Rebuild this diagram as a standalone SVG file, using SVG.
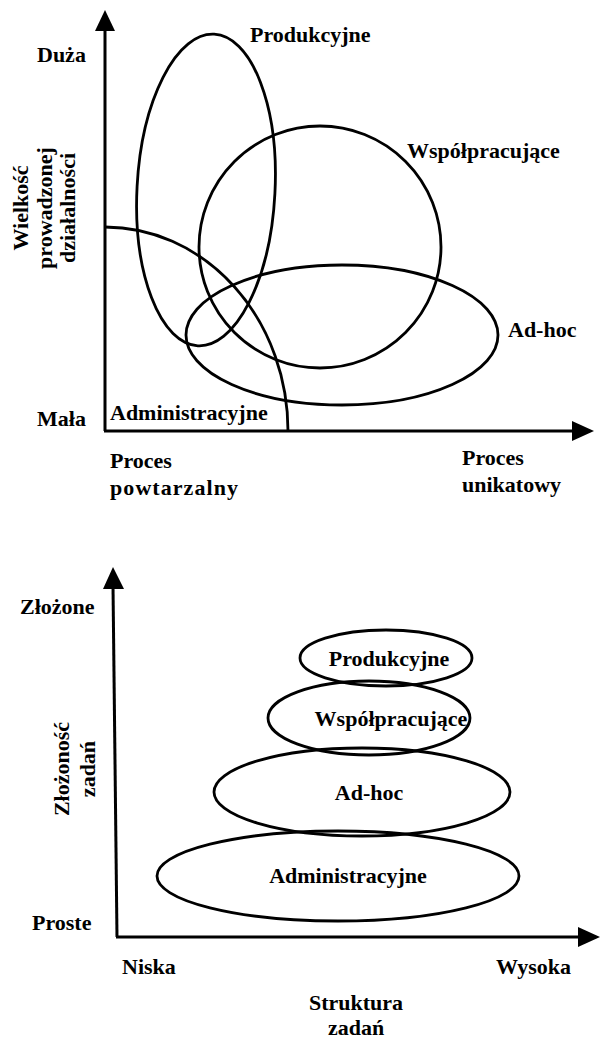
<svg xmlns="http://www.w3.org/2000/svg" width="601" height="1045" viewBox="0 0 601 1045">
<style>
.t{font-family:"Liberation Serif","Times New Roman",serif;font-size:22px;font-weight:bold;fill:#000}
.m{text-anchor:middle}
.ax{stroke:#000;stroke-width:3;fill:none}
.sh{stroke:#000;stroke-width:2.8;fill:none}
</style>
<rect width="601" height="1045" fill="#fff"/>
<g id="connectors">
<line class="ax" x1="105" y1="431" x2="105" y2="28"/>
<polygon points="105,10 95,31 115,31" fill="#000"/>
<line class="ax" x1="104" y1="431" x2="575" y2="431"/>
<polygon points="594,431 572,421 572,441" fill="#000"/>
<line class="ax" x1="117" y1="937" x2="113" y2="586"/>
<polygon points="113,567 103,589 124,589" fill="#000"/>
<line class="ax" x1="116" y1="937" x2="580" y2="937"/>
<polygon points="600,937 578,927 578,947" fill="#000"/>
</g>
<g id="top-produkcyjne">
<ellipse class="sh" cx="206" cy="190" rx="69" ry="156" transform="rotate(3 206 190)"/>
<text class="t" x="250" y="42">Produkcyjne</text>
</g>
<g id="top-wspolpracujace">
<circle class="sh" cx="320" cy="247" r="121"/>
<text class="t" x="407" y="158">Współpracujące</text>
</g>
<g id="top-adhoc">
<ellipse class="sh" cx="342" cy="335" rx="156" ry="70"/>
<text class="t" x="508" y="337">Ad-hoc</text>
</g>
<g id="top-administracyjne">
<path class="sh" d="M105,227 A183,204 0 0 1 288,431"/>
<text class="t" x="110" y="420">Administracyjne</text>
</g>
<g id="top-labels">
<text class="t" x="37" y="62">Duża</text>
<text class="t" x="37" y="426">Mała</text>
<text class="t" x="110" y="468">Proces</text>
<text class="t" x="110" y="495" textLength="128">powtarzalny</text>
<text class="t" x="462" y="465">Proces</text>
<text class="t" x="462" y="492">unikatowy</text>
<text class="t m" transform="translate(28 208) rotate(-90)">Wielkość</text>
<text class="t m" transform="translate(52 208) rotate(-90)">prowadzonej</text>
<text class="t m" transform="translate(75 208) rotate(-90)">działalności</text>
</g>
<g id="bottom-produkcyjne">
<ellipse class="sh" cx="386" cy="658" rx="86" ry="28"/>
<text class="t m" x="389" y="666">Produkcyjne</text>
</g>
<g id="bottom-wspolpracujace">
<ellipse class="sh" cx="369" cy="718" rx="101" ry="37"/>
<text class="t m" x="391" y="726">Współpracujące</text>
</g>
<g id="bottom-adhoc">
<ellipse class="sh" cx="362" cy="792" rx="148" ry="44"/>
<text class="t m" x="369" y="800">Ad-hoc</text>
</g>
<g id="bottom-administracyjne">
<ellipse class="sh" cx="338" cy="876" rx="181" ry="45"/>
<text class="t m" x="348" y="883">Administracyjne</text>
</g>
<g id="bottom-labels">
<text class="t" x="20" y="614">Złożone</text>
<text class="t" x="32" y="930">Proste</text>
<text class="t" x="122" y="974">Niska</text>
<text class="t" x="496" y="974">Wysoka</text>
<text class="t m" x="356" y="1010">Struktura</text>
<text class="t m" x="356" y="1035">zadań</text>
<text class="t m" transform="translate(69 769) rotate(-90)">Złożoność</text>
<text class="t m" transform="translate(95 769) rotate(-90)">zadań</text>
</g>
</svg>
